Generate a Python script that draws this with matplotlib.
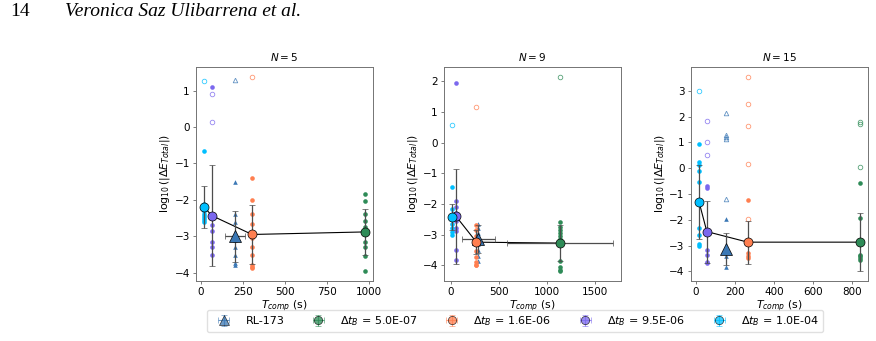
import numpy as np
import matplotlib
matplotlib.use("Agg")
import matplotlib.pyplot as plt

# series order: RL-173, dt=5.0E-07, dt=1.6E-06, dt=9.5E-06, dt=1.0E-04
labels = ["RL-173", r"$\Delta t_B$ = 5.0E-07", r"$\Delta t_B$ = 1.6E-06",
          r"$\Delta t_B$ = 9.5E-06", r"$\Delta t_B$ = 1.0E-04"]
colors = ["#3b78b5", "#2e8b57", "#ff7f50", "#7b68ee", "#00bfff"]
markers = ["^", "o", "o", "o", "o"]
N_values = [5, 9, 15]

# N = 5
n5_T = [205, 975, 305, 65, 20]
n5_Terr = [60, 0, 0, 0, 0]
n5_mean = [-3.0, -2.88, -2.95, -2.43, -2.19]
n5_err = [0.7, 0.62, 0.8, 1.38, 0.57]
n5_pts = [[-1.5, -2.38, -2.6, -2.95, -3.1, -3.3, -3.5, -3.72, -3.8],
          [-1.85, -2.02, -2.38, -2.57, -2.75, -3.17, -3.3, -3.55, -3.96],
          [-1.4, -2.0, -2.4, -2.65, -3.05, -3.3, -3.5, -3.78, -3.85, -3.88],
          [1.1, -2.7, -2.85, -3.15, -3.3, -3.5],
          [-0.65, -2.1, -2.15, -2.2, -2.25, -2.3, -2.4, -2.45, -2.5, -2.55, -2.6]]
n5_open = [[1.3], [], [1.38], [0.9, 0.15], [1.25]]

# N = 9
n9_T = [285, 1135, 265, 50, 10]
n9_Terr = [170, 555, 0, 0, 0]
n9_mean = [-3.15, -3.28, -3.25, -2.4, -2.43]
n9_err = [0.45, 0.6, 0.4, 1.55, 0.42]
n9_pts = [[-2.65, -2.8, -2.95, -3.1, -3.3, -3.5, -3.7, -3.85],
          [-2.58, -2.75, -2.85, -2.95, -3.05, -3.15, -3.25, -3.88, -4.05, -4.15, -4.2],
          [-2.7, -2.85, -3.05, -3.3, -3.55, -3.75, -3.9, -3.98, -4.0],
          [1.95, -1.92, -2.1, -2.3, -2.55, -2.8, -2.9, -3.5, -3.82],
          [-1.46, -2.18, -2.5, -2.65, -2.8, -2.93, -3.0]]
n9_open = [[], [2.15], [1.15], [], [0.57]]

# N = 15
n15_T = [155, 840, 265, 55, 15]
n15_Terr = [0, 0, 0, 0, 0]
n15_mean = [-3.15, -2.87, -2.87, -2.46, -1.31]
n15_err = [0.62, 1.13, 0.83, 1.2, 1.45]
n15_pts = [[-1.98, -3.15, -3.41, -3.83],
           [-0.58, -1.92, -3.35, -3.42, -3.48, -3.55],
           [-1.24, -3.28, -3.41, -3.48],
           [-0.68, -0.77, -3.19, -3.35, -3.64, -3.67],
           [0.94, 0.23, 0.12, -0.1, -0.53, -2.33, -2.59, -2.93, -3.0]]
n15_open = [[2.15, 1.27, 1.2, 1.14, -1.2],
            [1.79, 1.70, 0.06],
            [3.55, 2.5, 1.62, 0.16, -1.98],
            [1.85, 1.01, 0.51],
            [3.0]]

panels = [(n5_T, n5_Terr, n5_mean, n5_err, n5_pts, n5_open),
          (n9_T, n9_Terr, n9_mean, n9_err, n9_pts, n9_open),
          (n15_T, n15_Terr, n15_mean, n15_err, n15_pts, n15_open)]

plt.rcParams["font.size"] = 7.5
plt.rcParams["mathtext.fontset"] = "dejavusans"

W, H = 876, 341
fig = plt.figure(figsize=(W / 100, H / 100), dpi=100)

fig.text(10 / W, 1 - 12 / H, "14", family="Liberation Serif", fontsize=14, va="center")
fig.text(65 / W, 1 - 12 / H, "Veronica Saz Ulibarrena et al.", family="Liberation Serif",
         style="italic", fontsize=14, va="center")

lefts = [196, 444, 691]
handles = []
for k, (T, Terr, mean, err, pts, opn) in enumerate(panels):
    ax = fig.add_axes([lefts[k] / W, 1 - 281 / H, 177 / W, (281 - 67) / H])
    for i in range(5):
        m = markers[i]
        ax.plot(np.full(len(pts[i]), T[i]), pts[i], m, color=colors[i],
                ms=3.3, mew=0, zorder=2)
        ax.plot(np.full(len(opn[i]), T[i]), opn[i], m, mfc="none", mec=colors[i],
                ms=3.3, mew=0.6, alpha=0.8, zorder=2)
    # line through the dt_B series means, sorted by time
    order = [4, 3, 2, 1]
    ax.plot([T[i] for i in order], [mean[i] for i in order], "-", color="k",
            lw=0.8, zorder=3)
    for i in range(5):
        ax.errorbar(T[i], mean[i], xerr=Terr[i] if Terr[i] else None, yerr=err[i],
                    fmt=markers[i], color=colors[i], mec="k", mew=0.5,
                    ms=8 if markers[i] == "^" else 6.5, ecolor="0.3",
                    elinewidth=0.9, capsize=2.5, capthick=0.9, zorder=4)
    ax.set_title(r"$N = %d$" % N_values[k], fontsize=7.5, pad=4)
    ax.set_xlabel(r"$T_{comp}$ (s)", fontsize=7.8, labelpad=1)
    ax.set_ylabel(r"$\log_{10}(|\Delta E_{Total}|)$", fontsize=7.8, labelpad=2)
    ax.tick_params(labelsize=7.5, length=2.5, width=0.6, pad=2, color="0.4")
    for s in ax.spines.values():
        s.set_color("0.45")
        s.set_linewidth(0.7)
    if k == 0:
        for i in range(5):
            h = ax.errorbar([np.nan], [np.nan], xerr=[1], yerr=[1], fmt=markers[i],
                            color=colors[i], mec="k", mew=0.5,
                            ms=7 if markers[i] == "^" else 6, ecolor=colors[i],
                            elinewidth=0.8, capsize=2, alpha=0.75)
            handles.append(h)

fig.axes[0].set_xticks([0, 250, 500, 750, 1000])
fig.axes[1].set_xticks([0, 500, 1000, 1500])
fig.axes[2].set_xticks([0, 200, 400, 600, 800])

fig.legend(handles, labels, loc="lower center", ncol=5, fontsize=8,
           bbox_to_anchor=(515 / W, 3 / H), frameon=True, edgecolor="0.85",
           handlelength=2.3, columnspacing=1.9, handletextpad=0.8,
           borderpad=0.4, fancybox=True)

fig.savefig("out.png", dpi=100)
